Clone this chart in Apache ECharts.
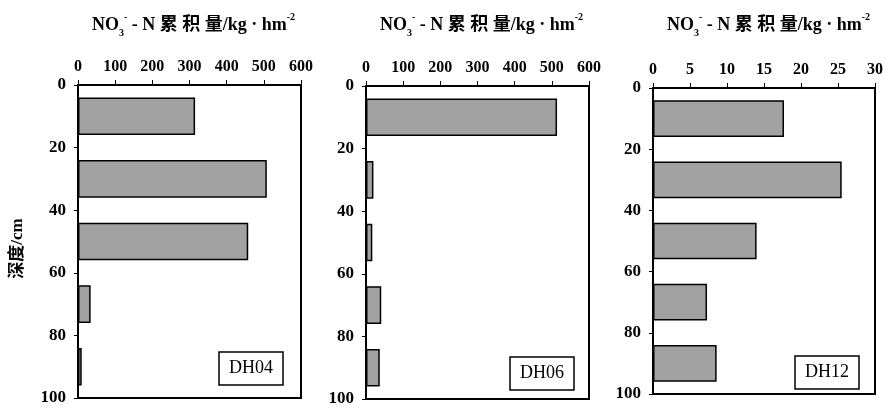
<!DOCTYPE html>
<html>
<head>
<meta charset="utf-8">
<script src="https://cdn.jsdelivr.net/npm/echarts@6/dist/echarts.min.js"></script>
<style>html,body{margin:0;padding:0;background:#fff}#c{width:886px;height:408px}</style>
</head>
<body>
<div id="c"></div>
<script>
const depthCats = ['0-20', '20-40', '40-60', '60-80', '80-100'];
const dh04 = [315, 508, 458, 34, 10];
const dh06 = [514, 20, 17, 41, 37];
const dh12 = [17.7, 25.5, 14.0, 7.3, 8.6];
const siteNames = ['DH04', 'DH06', 'DH12'];
const xMax = [600, 600, 30];
const xStep = [100, 100, 5];
const depthMax = 100;
const depthStep = 20;
const yAxisTitle = '深度/cm';

const seriesData = [dh04, dh06, dh12];
const FONT = '"Liberation Serif","Times New Roman","Noto Sans CJK SC",serif';
const grids = [
  {left: 78, top: 85, width: 223, height: 313},
  {left: 366, top: 86, width: 223, height: 313},
  {left: 653, top: 88, width: 223, height: 306}
];
const boxes = [[219, 352], [510, 357], [795, 356]];

const option = {
  animation: false,
  backgroundColor: '#fff',
  grid: grids.map(g => Object.assign({show: true, borderColor: '#000', borderWidth: 2, backgroundColor: 'transparent'}, g)),
  title: [],
  xAxis: [],
  yAxis: [],
  series: []
};

for (let i = 0; i < 3; i++) {
  const g = grids[i];
  option.title.push({
    text: 'NO{sub|3}{sup|-} - N 累 积 量/kg · hm{sup|-2}',
    left: g.left + g.width / 2 - 1,
    textAlign: 'center',
    top: 7,
    textStyle: {
      fontFamily: FONT, fontWeight: 'bold', fontSize: 18, color: '#000', lineHeight: 26,
      rich: {
        sub: {fontFamily: FONT, fontWeight: 'bold', fontSize: 10, verticalAlign: 'bottom', lineHeight: 26, color: '#000'},
        sup: {fontFamily: FONT, fontWeight: 'bold', fontSize: 10, verticalAlign: 'top', lineHeight: 26, color: '#000'}
      }
    }
  });
  option.title.push({
    text: siteNames[i],
    left: boxes[i][0], top: boxes[i][1],
    padding: [7, 10, 7, 10],
    borderColor: '#000', borderWidth: 1.5,
    backgroundColor: '#fff',
    textStyle: {fontFamily: FONT, fontWeight: 'normal', fontSize: 18, color: '#000', lineHeight: 19}
  });
  option.xAxis.push({
    type: 'value', gridIndex: i, position: 'top',
    min: 0, max: xMax[i], interval: xStep[i],
    axisLine: {show: true, lineStyle: {color: '#000', width: 2}},
    axisTick: {show: true, inside: false, length: 5, lineStyle: {color: '#000', width: 1}},
    axisLabel: {margin: 10, fontFamily: FONT, fontWeight: 'bold', fontSize: 16, color: '#000'},
    splitLine: {show: false}
  });
  option.yAxis.push({
    type: 'category', gridIndex: i, data: depthCats, inverse: true,
    axisLine: {show: false}, axisTick: {show: false}, axisLabel: {show: false}
  });
  option.yAxis.push({
    type: 'value', gridIndex: i, position: 'left', inverse: true,
    min: 0, max: depthMax, interval: depthStep,
    name: i === 0 ? yAxisTitle : '',
    nameLocation: 'middle', nameRotate: 90, nameGap: 52,
    nameTextStyle: {fontFamily: FONT, fontWeight: 'bold', fontSize: 17, color: '#000', padding: [0, 14, 0, 0]},
    axisLine: {show: true, lineStyle: {color: '#000', width: 2}},
    axisTick: {show: true, inside: false, length: 4, lineStyle: {color: '#000', width: 1}},
    axisLabel: {margin: 12, fontFamily: FONT, fontWeight: 'bold', fontSize: 17, color: '#000'},
    splitLine: {show: false}
  });
  option.series.push({
    type: 'bar', xAxisIndex: i, yAxisIndex: i * 2,
    data: seriesData[i],
    barCategoryGap: '40%',
    itemStyle: {color: '#a2a2a2', borderColor: '#000', borderWidth: 1.5},
    z: 1
  });
}

const chart = echarts.init(document.getElementById('c'), null, {renderer: 'canvas'});
chart.setOption(option);
</script>
</body>
</html>
